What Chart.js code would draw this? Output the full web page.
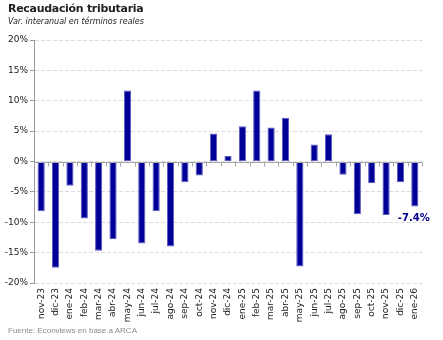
<!DOCTYPE html>
<html>
<head>
<meta charset="utf-8">
<script src="https://cdn.jsdelivr.net/npm/chart.js@4"></script>
<style>
  body { margin: 0; background: #fff; }
  #wrap { position: relative; width: 443px; height: 340px; }
  #wrap canvas { position: absolute; left: 0; top: 0; }
  .txt { position: absolute; left: 8px; white-space: nowrap; }
  #title { top: 2px; font: bold 11px "DejaVu Sans", sans-serif; color: #222; letter-spacing: -0.3px; }
  #sub { top: 17px; font: italic 8px "DejaVu Sans", sans-serif; color: #222; }
  #src { top: 326px; font: 8px "Liberation Sans", sans-serif; color: #8c8c8c; }
</style>
</head>
<body>
<div id="wrap">
  <canvas id="myChart" width="443" height="340"></canvas>
  <div class="txt" id="title">Recaudación tributaria</div>
  <div class="txt" id="sub">Var. interanual en términos reales</div>
  <div class="txt" id="src">Fuente: Econviews en base a ARCA</div>
</div>
<script>
const months = ["nov-23", "dic-23", "ene-24", "feb-24", "mar-24", "abr-24", "may-24", "jun-24", "jul-24",
    "ago-24", "sep-24", "oct-24", "nov-24", "dic-24", "ene-25", "feb-25", "mar-25", "abr-25",
    "may-25", "jun-25", "jul-25", "ago-25", "sep-25", "oct-25", "nov-25", "dic-25", "ene-26"];
const variation = [-8.2, -17.5, -4.0, -9.4, -14.7, -12.8, 11.7, -13.5, -8.2,
    -14.0, -3.4, -2.3, 4.6, 0.9, 5.8, 11.7, 5.6, 7.2,
    -17.3, 2.8, 4.5, -2.2, -8.7, -3.6, -8.8, -3.4, -7.4];
const yTicks = [-20, -15, -10, -5, 0, 5, 10, 15, 20];

// línea del cero, marcas del eje x y etiqueta del último dato
const extras = {
    id: "extras",
    afterDatasetsDraw(chart) {
        const ctx = chart.ctx;
        const x = chart.scales.x;
        const y = chart.scales.y;
        const y0 = Math.round(y.getPixelForValue(0)) + 0.5;
        const step = x.getPixelForValue(1) - x.getPixelForValue(0);
        ctx.save();
        ctx.strokeStyle = "#a6a6a6";
        ctx.lineWidth = 1;
        ctx.beginPath();
        ctx.moveTo(chart.chartArea.left, y0);
        ctx.lineTo(chart.chartArea.right, y0);
        for (let i = 0; i <= months.length; i++) {
            const tx = Math.round(x.getPixelForValue(0) - step / 2 + i * step) + 0.5;
            ctx.moveTo(tx, y0);
            ctx.lineTo(tx, y0 + 4);
        }
        ctx.stroke();

        const last = variation.length - 1;
        const lx = x.getPixelForValue(last);
        const ly = y.getPixelForValue(variation[last]);
        ctx.fillStyle = "#00008b";
        ctx.font = "bold 10px 'DejaVu Sans'";
        ctx.textAlign = "center";
        ctx.textBaseline = "middle";
        ctx.fillText(variation[last].toFixed(1) + "%", lx - 1, ly + 12);
        ctx.restore();
    }
};

const config = {
    type: "bar",
    data: {
        labels: months,
        datasets: [{
            data: variation,
            backgroundColor: "#000099",
            borderColor: "#5a5ac4",
            borderWidth: 1,
            borderSkipped: false,
            categoryPercentage: 1,
            barPercentage: 0.5
        }]
    },
    options: {
        responsive: false,
        animation: false,
        layout: { padding: { top: 40, right: 21, bottom: 12, left: 0 } },
        plugins: {
            legend: { display: false },
            tooltip: { enabled: false }
        },
        scales: {
            x: {
                grid: { display: false, drawTicks: false },
                border: { display: false },
                ticks: {
                    autoSkip: false, minRotation: 90, maxRotation: 90, padding: 5,
                    color: "#222", font: { family: "DejaVu Sans", size: 9 }
                },
                afterFit: (s) => { s.height = 45; }
            },
            y: {
                min: -20, max: 20,
                afterBuildTicks: (s) => { s.ticks = yTicks.map(v => ({ value: v })); },
                grid: { color: "#dcdcdc", tickColor: "#999", tickLength: 4, tickBorderDash: [] },
                border: { display: true, color: "#999", dash: [4, 2] },
                ticks: {
                    padding: 2, color: "#222",
                    font: { family: "DejaVu Sans", size: 9 },
                    callback: (v) => v + "%"
                },
                afterFit: (s) => { s.width = 34; }
            }
        }
    },
    plugins: [extras]
};

new Chart(document.getElementById("myChart"), config);
</script>
</body>
</html>
